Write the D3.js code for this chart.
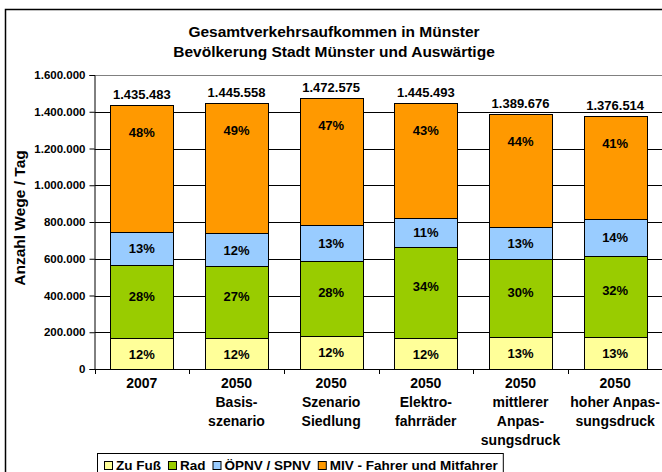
<!DOCTYPE html>
<html>
<head>
<meta charset="utf-8">
<script src="https://cdn.jsdelivr.net/npm/d3@7"></script>
<style>
  body { margin: 0; background: #fff; }
  text { font-family: "Liberation Sans", Arial, sans-serif; font-weight: bold; fill: #000; }
</style>
</head>
<body>
<div id="chart"></div>
<script>
// Kategorien (x-Achse), mehrzeilig
const categories = [
    ["2007"],
    ["2050", "Basis-", "szenario"],
    ["2050", "Szenario", "Siedlung"],
    ["2050", "Elektro-", "fahrräder"],
    ["2050", "mittlerer", "Anpas-", "sungsdruck"],
    ["2050", "hoher Anpas-", "sungsdruck"]
];

// Wege pro Tag je Verkehrsmittel
const zuFuss = [167000, 167000, 181000, 167000, 176000, 176000];
const rad    = [399000, 393000, 408000, 499000, 421000, 441000];
const oepnv  = [181000, 178000, 193000, 154000, 177000, 198000];
const miv    = [688483, 707558, 690575, 625493, 615676, 561514];

// Beschriftungen
const totals = ["1.435.483", "1.445.558", "1.472.575", "1.445.493", "1.389.676", "1.376.514"];
const pctZuFuss = ["12%", "12%", "12%", "12%", "13%", "13%"];
const pctRad    = ["28%", "27%", "28%", "34%", "30%", "32%"];
const pctOepnv  = ["13%", "12%", "13%", "11%", "13%", "14%"];
const pctMiv    = ["48%", "49%", "47%", "43%", "44%", "41%"];

const seriesNames = ["Zu Fuß", "Rad", "ÖPNV / SPNV", "MIV - Fahrer und Mitfahrer"];
const yTicks = [0, 200000, 400000, 600000, 800000, 1000000, 1200000, 1400000, 1600000];

const colors = ["#FFFF99", "#99CC00", "#99CCFF", "#FF9900"];

const width = 662;
const height = 472;

const svg = d3.select("#chart")
    .append("svg")
    .attr("width", width)
    .attr("height", height);

// Rahmen um das Diagramm (rechts/unten abgeschnitten)
svg.append("rect")
    .attr("x", 5.5).attr("y", 9.5)
    .attr("width", 700).attr("height", 500)
    .attr("fill", "none")
    .attr("stroke", "#000")
    .attr("stroke-width", 1.5);

// Titel
svg.append("text")
    .attr("x", 334).attr("y", 37)
    .attr("text-anchor", "middle")
    .style("font-size", "15.5px")
    .text("Gesamtverkehrsaufkommen in Münster");
svg.append("text")
    .attr("x", 334).attr("y", 57)
    .attr("text-anchor", "middle")
    .style("font-size", "15.5px")
    .text("Bevölkerung Stadt Münster und Auswärtige");

const plot = { left: 94.5, right: 662.5, top: 75, bottom: 369 };

const x = d3.scaleBand()
    .domain(d3.range(categories.length))
    .range([plot.left, plot.right])
    .paddingInner(0.335)
    .paddingOuter(0.1675);

const y = d3.scaleLinear()
    .domain([0, 1600000])
    .range([plot.bottom, plot.top]);

const de = d3.formatLocale({ decimal: ",", thousands: ".", grouping: [3], currency: ["", " €"] });
const fmt = de.format(",");

// Gitterlinien
svg.append("g")
    .selectAll("line")
    .data(yTicks.filter(d => d > 0))
    .enter()
    .append("line")
    .attr("x1", plot.left).attr("x2", plot.right)
    .attr("y1", d => Math.round(y(d)) + 0.5)
    .attr("y2", d => Math.round(y(d)) + 0.5)
    .attr("stroke", d => d === 1600000 ? "#808080" : "#000")
    .attr("stroke-width", 1);

// y-Achse
const yAxis = svg.append("g")
    .attr("transform", `translate(${plot.left},0)`)
    .call(d3.axisLeft(y).tickValues(yTicks).tickFormat(fmt).tickSize(5).tickPadding(4));
yAxis.select(".domain").attr("stroke", "#000");
yAxis.selectAll("text")
    .style("font-size", "11.5px")
    .style("font-family", "'Liberation Sans', Arial, sans-serif")
    .style("font-weight", "bold");

svg.append("text")
    .attr("transform", "translate(25,218) rotate(-90)")
    .attr("text-anchor", "middle")
    .style("font-size", "15.5px")
    .text("Anzahl Wege  / Tag");

// Stapel
const table = categories.map((c, i) => ({
    i: i,
    zuFuss: zuFuss[i], rad: rad[i], oepnv: oepnv[i], miv: miv[i]
}));
const keys = ["zuFuss", "rad", "oepnv", "miv"];
const pctLabels = [pctZuFuss, pctRad, pctOepnv, pctMiv];
const stacked = d3.stack().keys(keys)(table);

const layers = svg.selectAll(".layer")
    .data(stacked)
    .enter()
    .append("g")
    .attr("class", "layer");

layers.selectAll("rect")
    .data(d => d)
    .enter()
    .append("rect")
    .attr("x", d => Math.round(x(d.data.i)) + 0.5)
    .attr("width", Math.round(x.bandwidth()))
    .attr("y", d => Math.round(y(d[1])) + 0.5)
    .attr("height", d => Math.round(y(d[0])) - Math.round(y(d[1])))
    .attr("fill", function () { return colors[d3.select(this.parentNode).datum().index]; })
    .attr("stroke", "#000")
    .attr("stroke-width", 1);

// Prozentwerte
layers.each(function (layer, k) {
    d3.select(this).selectAll("text")
        .data(layer)
        .enter()
        .append("text")
        .attr("x", d => x(d.data.i) + x.bandwidth() / 2)
        .attr("y", d => {
            if (k === 3) return y(d[1]) + 27 + 5;
            if (k === 1) return (y(d[0]) + y(d[1])) / 2 - 6 + 5;
            return (y(d[0]) + y(d[1])) / 2 + 5;
        })
        .attr("text-anchor", "middle")
        .style("font-size", "13px")
        .text((d, i) => pctLabels[k][i]);
});

// Summen über den Säulen
svg.append("g")
    .selectAll("text")
    .data(stacked[3])
    .enter()
    .append("text")
    .attr("x", d => x(d.data.i) + x.bandwidth() / 2)
    .attr("y", d => y(d[1]) - 6)
    .attr("text-anchor", "middle")
    .style("font-size", "13px")
    .text((d, i) => totals[i]);

// x-Achse
svg.append("line")
    .attr("x1", plot.left).attr("x2", plot.right)
    .attr("y1", plot.bottom + 0.5).attr("y2", plot.bottom + 0.5)
    .attr("stroke", "#000");
svg.append("g")
    .selectAll("line")
    .data(d3.range(categories.length + 1))
    .enter()
    .append("line")
    .attr("x1", i => Math.round(plot.left + i * x.step()) + 0.5)
    .attr("x2", i => Math.round(plot.left + i * x.step()) + 0.5)
    .attr("y1", plot.bottom)
    .attr("y2", plot.bottom + 5)
    .attr("stroke", "#000");

const catLabels = svg.append("g")
    .selectAll("text")
    .data(categories)
    .enter()
    .append("text")
    .attr("text-anchor", "middle")
    .style("font-size", "14px")
    .attr("transform", (d, i) => `translate(${x(i) + x.bandwidth() / 2},388)`);
catLabels.selectAll("tspan")
    .data(d => d)
    .enter()
    .append("tspan")
    .attr("x", 0)
    .attr("y", (d, j) => j * 19)
    .text(d => d);

// Legende
const legend = svg.append("g").attr("transform", "translate(97,453)");
const legendBox = legend.append("rect")
    .attr("x", 0.5).attr("y", 0.5)
    .attr("height", 24)
    .attr("fill", "#fff")
    .attr("stroke", "#000");
let lx = 7;
seriesNames.forEach((name, i) => {
    legend.append("rect")
        .attr("x", lx + 0.5).attr("y", 8.5)
        .attr("width", 8).attr("height", 8)
        .attr("fill", colors[i])
        .attr("stroke", "#000");
    const t = legend.append("text")
        .attr("x", lx + 12)
        .attr("y", 16.5)
        .style("font-size", "13.5px")
        .text(name);
    lx += 12 + t.node().getComputedTextLength() + 7;
});
legendBox.attr("width", lx - 2);
</script>
</body>
</html>
